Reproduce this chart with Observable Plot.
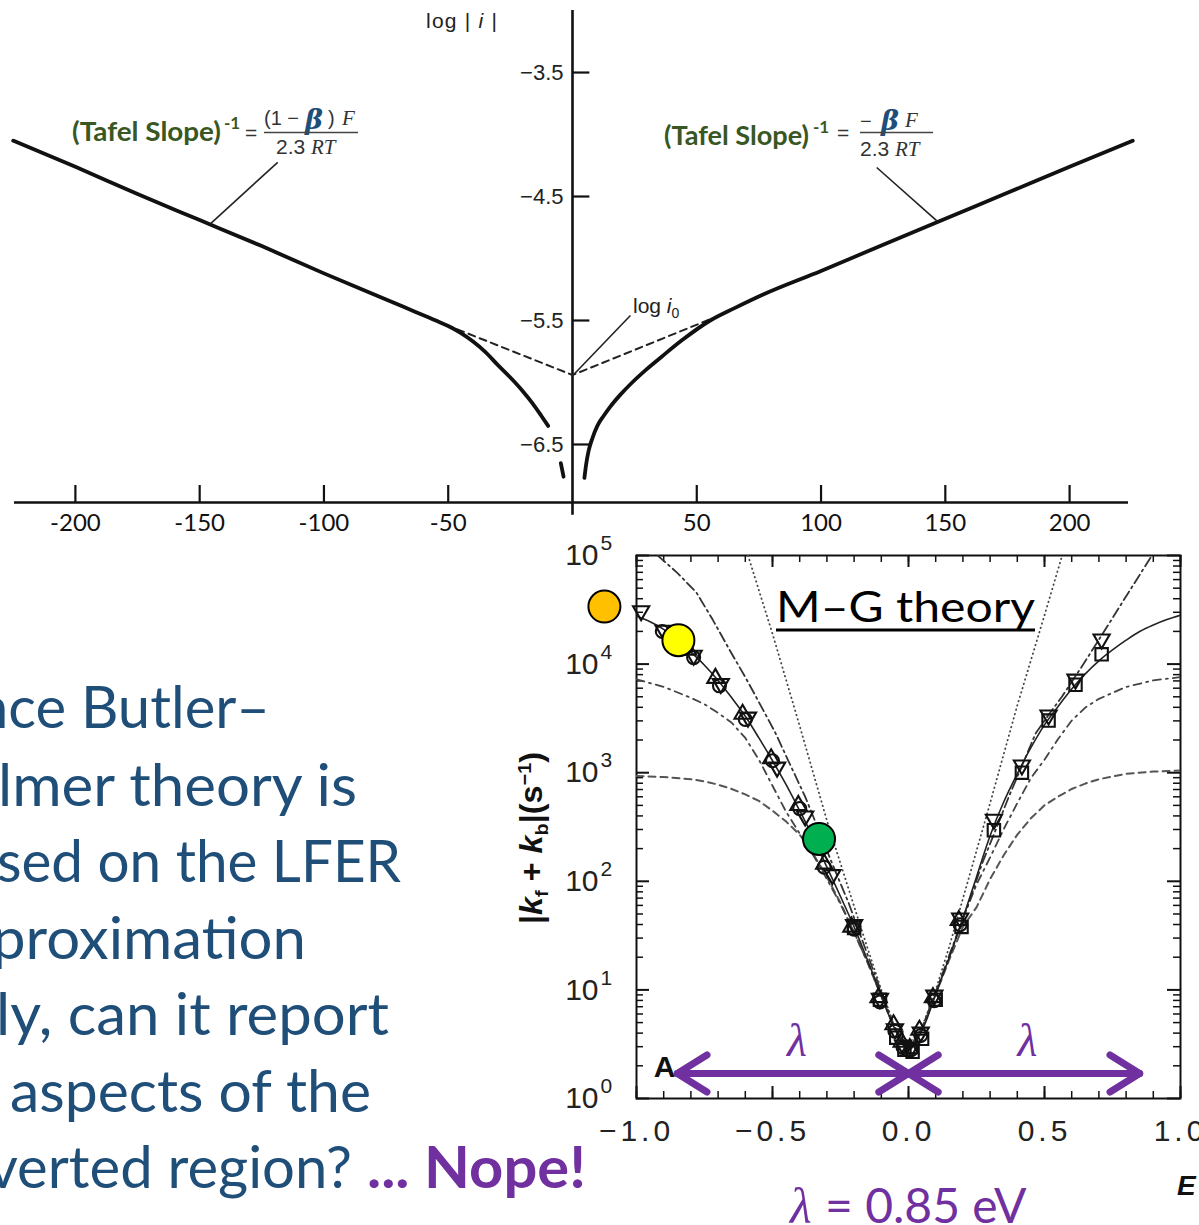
<!DOCTYPE html>
<html>
<head>
<meta charset="utf-8">
<script src="https://cdn.jsdelivr.net/npm/d3@7"></script>
<script src="https://cdn.jsdelivr.net/npm/@observablehq/plot@0.6"></script>
<style>
  html, body { margin:0; padding:0; background:#fff; }
  #page { position:relative; width:1199px; height:1225px; overflow:hidden; background:#fff; }
  #tafel, #mg, #notes { position:absolute; }
  #tafel { left:0; top:0; }
  #mg { left:490px; top:530px; }
  #notes { left:0; top:0; pointer-events:none; }
  #mg g[aria-label="x-axis tick label"] text { letter-spacing:4px; }
  #mg g[aria-label="ytick-base"] text { letter-spacing:4px; }
</style>
</head>
<body>
<div id="page">
  <div id="tafel"></div>
  <div id="mg"></div>
  <svg id="notes" width="1199" height="1225" xmlns="http://www.w3.org/2000/svg">
    <!-- Tafel plot labels -->
    <g font-family="Liberation Sans, Arial, sans-serif" fill="#222">
      <text x="426" y="28" font-size="21" textLength="71">log | <tspan font-style="italic">i</tspan> |</text>
      <text x="633" y="313" font-size="21">log <tspan font-style="italic">i</tspan><tspan font-size="14" dy="5">0</tspan></text>
    </g>
    <!-- left Tafel formula -->
    <g>
      <text x="72" y="141" font-family="Lato, sans-serif" font-weight="bold" font-size="26" fill="#385723" textLength="149" lengthAdjust="spacingAndGlyphs">(Tafel Slope)</text>
      <text x="224" y="129" font-family="Lato, sans-serif" font-weight="bold" font-size="17" fill="#385723">-1</text>
      <text x="245" y="140" font-family="Liberation Sans, Arial, sans-serif" font-size="21" fill="#333">=</text>
      <text x="264" y="125" font-family="Liberation Sans, Arial, sans-serif" font-size="20" fill="#333">(1 −</text>
      <text x="305" y="129" font-family="DejaVu Serif, serif" font-weight="bold" font-style="italic" font-size="27" fill="#1F4E79">β</text>
      <text x="328" y="125" font-family="Liberation Sans, Arial, sans-serif" font-size="20" fill="#333">)</text>
      <text x="342" y="125" font-family="Liberation Serif, serif" font-style="italic" font-size="21" fill="#333">F</text>
      <line x1="264" x2="358" y1="132.5" y2="132.5" stroke="#444" stroke-width="1.6"/>
      <text x="276" y="154" font-family="Liberation Sans, Arial, sans-serif" font-size="21" fill="#333">2.3 <tspan font-family="Liberation Serif, serif" font-style="italic">RT</tspan></text>
    </g>
    <!-- right Tafel formula -->
    <g>
      <text x="664" y="145" font-family="Lato, sans-serif" font-weight="bold" font-size="26" fill="#385723" textLength="145" lengthAdjust="spacingAndGlyphs">(Tafel Slope)</text>
      <text x="813" y="133" font-family="Lato, sans-serif" font-weight="bold" font-size="17" fill="#385723">-1</text>
      <text x="837" y="140" font-family="Liberation Sans, Arial, sans-serif" font-size="21" fill="#333">=</text>
      <text x="860" y="128" font-family="Liberation Sans, Arial, sans-serif" font-size="20" fill="#333">−</text>
      <text x="881" y="130" font-family="DejaVu Serif, serif" font-weight="bold" font-style="italic" font-size="27" fill="#1F4E79">β</text>
      <text x="905" y="127" font-family="Liberation Serif, serif" font-style="italic" font-size="21" fill="#333">F</text>
      <line x1="860" x2="933" y1="132.5" y2="132.5" stroke="#444" stroke-width="1.6"/>
      <text x="860" y="156" font-family="Liberation Sans, Arial, sans-serif" font-size="21" fill="#333">2.3 <tspan font-family="Liberation Serif, serif" font-style="italic">RT</tspan></text>
    </g>
    <!-- left paragraph -->
    <g font-family="Lato, sans-serif" font-size="58" fill="#1F4E79" text-anchor="end">
      <text x="270" y="728" textLength="294" lengthAdjust="spacingAndGlyphs">nce Butler–</text>
      <text x="357" y="806" textLength="359" lengthAdjust="spacingAndGlyphs">lmer theory is</text>
      <text x="401" y="882" textLength="404" lengthAdjust="spacingAndGlyphs">sed on the LFER</text>
      <text x="306" y="959" textLength="314" lengthAdjust="spacingAndGlyphs">proximation</text>
      <text x="389" y="1035" textLength="393" lengthAdjust="spacingAndGlyphs">ly, can it report</text>
      <text x="371" y="1112" textLength="361" lengthAdjust="spacingAndGlyphs">aspects of the</text>
      <text x="352" y="1188" textLength="364" lengthAdjust="spacingAndGlyphs">verted region?</text>
    </g>
    <text x="586" y="1188" text-anchor="end" font-family="Lato, sans-serif" font-weight="bold" font-size="58" fill="#7030A0" textLength="219" lengthAdjust="spacingAndGlyphs">... Nope!</text>
    <!-- M-G plot labels -->
    <text x="776" y="622" font-family="Lato, sans-serif" font-size="42" fill="#000" textLength="259" lengthAdjust="spacingAndGlyphs">M–G theory</text>
    <line x1="776" x2="1035" y1="630" y2="630" stroke="#000" stroke-width="3"/>
    <text transform="translate(542,838) rotate(-90)" text-anchor="middle" font-family="Liberation Sans, Arial, sans-serif" font-weight="bold" font-size="31" fill="#111" textLength="172" lengthAdjust="spacingAndGlyphs">|<tspan font-style="italic">k</tspan><tspan font-size="19" dy="6">f</tspan><tspan dy="-6"> + </tspan><tspan font-style="italic">k</tspan><tspan font-size="19" dy="6">b</tspan><tspan dy="-6">|(s</tspan><tspan font-size="19" dy="-11">−1</tspan><tspan dy="11">)</tspan></text>
    <text x="1177" y="1195" font-family="Liberation Sans, Arial, sans-serif" font-weight="bold" font-style="italic" font-size="28" fill="#111">E</text>
    <text x="790" y="1223" fill="#7030A0"><tspan font-family="Liberation Serif, serif" font-style="italic" font-size="50">λ</tspan><tspan x="825" font-family="Lato, sans-serif" font-size="48">= 0.85 eV</tspan></text>
  </svg>
</div>
<script>
// ---------------- Tafel plot data (overpotential in mV, log|i|) ----------------
const tafelXTicks = [-200, -150, -100, -50, 50, 100, 150, 200];
const tafelYTicks = [-3.5, -4.5, -5.5, -6.5];
const tafelAxisLogI = -6.968;            // level of the horizontal axis
const tafelYAxisSpan = [-7.07, -3.0];    // extent of the vertical axis
const tafelTickLength = 7;               // y tick length in mV units

const cathodicX    = [-225, -200, -175, -150, -125, -100, -75, -65, -55, -50, -45, -40, -35, -30, -25, -20, -16, -12.5, -9.8];
const cathodicLogI = [-4.05, -4.26, -4.48, -4.69, -4.90, -5.12, -5.33, -5.415, -5.50, -5.545, -5.60, -5.67, -5.755, -5.86, -5.96, -6.07, -6.17, -6.27, -6.35];
const cathodicTailX    = [-4.7, -3.6];
const cathodicTailLogI = [-6.65, -6.76];
const anodicX    = [4.8, 5.5, 6.5, 8, 10, 12.5, 15, 19.2, 24, 30, 36, 44, 55.4, 65.2, 76.7, 100, 125, 150, 175, 200, 225.4];
const anodicLogI = [-6.77, -6.66, -6.55, -6.45, -6.35, -6.27, -6.20, -6.10, -6.00, -5.89, -5.79, -5.66, -5.50, -5.40, -5.29, -5.10, -4.89, -4.68, -4.47, -4.26, -4.05];
const extrapX    = [-55.3, 0, 55.4];
const extrapLogI = [-5.50, -5.94, -5.49];
// leader lines: label end -> curve end
const leaderX1 = [-118.6, 122.4, 23.3];
const leaderY1 = [-4.224, -4.266, -5.46];
const leaderX2 = [-145.6, 146.6, 0.8];
const leaderY2 = [-4.718, -4.697, -5.93];

// ---------------- M–G plot data (E in eV, log10 |kf+kb|) ----------------
const mgXLabels = [-1, -0.5, 0, 0.5, 1];
const mgXMinor = [-1, -0.9, -0.8, -0.7, -0.6, -0.5, -0.4, -0.3, -0.2, -0.1, 0, 0.1, 0.2, 0.3, 0.4, 0.5, 0.6, 0.7, 0.8, 0.9, 1];
const mgYMajor = [1, 1e1, 1e2, 1e3, 1e4, 1e5];
const mgYMinor = d3.range(0, 5).flatMap(e => d3.range(2, 10).map(m => m * 10 ** e));

const solidE = [-1.0,-0.95,-0.9,-0.85,-0.8,-0.75,-0.7,-0.65,-0.6,-0.55,-0.5,-0.45,-0.4,-0.35,-0.3,-0.25,-0.2,-0.15,-0.1,-0.05,0,0.05,0.1,0.15,0.2,0.25,0.3,0.35,0.4,0.45,0.5,0.55,0.6,0.65,0.7,0.75,0.8,0.85,0.9,0.95,1.0];
const solidLogK = [4.44,4.39,4.32,4.22,4.11,3.99,3.85,3.69,3.52,3.32,3.11,2.89,2.65,2.40,2.13,1.86,1.58,1.27,0.95,0.64,0.45,0.63,0.96,1.30,1.66,2.04,2.42,2.73,2.99,3.23,3.44,3.61,3.77,3.91,4.03,4.13,4.22,4.30,4.36,4.41,4.45];

const bvE = [-0.59,-0.5,-0.4,-0.3,-0.2,-0.15,-0.1,-0.05,0,0.05,0.1,0.15,0.2,0.3,0.4,0.5,0.565];
const bvLogK = [5.0,4.28,3.43,2.56,1.77,1.38,1.0,0.66,0.45,0.66,1.0,1.40,1.84,2.72,3.62,4.45,5.0];

const steepE = [-0.922,-0.85,-0.78,-0.72,-0.66,-0.6,-0.55,-0.49,-0.44,-0.38,-0.33,-0.28,-0.22,-0.15,-0.1,-0.05,0,0.05,0.1,0.15,0.222,0.27,0.32,0.369,0.42,0.467,0.52,0.564,0.638,0.724,0.809,0.895];
const steepLogK = [5.0,4.84,4.66,4.41,4.14,3.88,3.65,3.37,3.10,2.78,2.47,2.16,1.80,1.32,0.98,0.65,0.45,0.65,0.98,1.32,1.80,2.16,2.47,2.78,3.08,3.36,3.55,3.70,3.98,4.32,4.66,5.0];

const plateauE = [-1.0,-0.9,-0.8,-0.75,-0.7,-0.65,-0.6,-0.55,-0.5,-0.45,-0.4,-0.35,-0.3,-0.25,-0.2,-0.15,-0.1,-0.05,0,0.05,0.1,0.15,0.2,0.25,0.3,0.35,0.4,0.45,0.5,0.55,0.6,0.65,0.7,0.8,0.9,1.0];
const plateauHiLogK = [3.86,3.79,3.69,3.63,3.55,3.46,3.32,3.12,2.88,2.64,2.44,2.24,2.02,1.79,1.53,1.25,0.94,0.64,0.45,0.64,0.96,1.30,1.66,1.97,2.22,2.48,2.72,2.95,3.12,3.31,3.48,3.60,3.68,3.79,3.85,3.88];
const plateauLoLogK = [2.97,2.96,2.94,2.92,2.89,2.85,2.80,2.74,2.65,2.55,2.43,2.25,2.04,1.80,1.53,1.25,0.94,0.64,0.45,0.64,0.96,1.28,1.58,1.76,2.02,2.24,2.43,2.58,2.70,2.78,2.85,2.90,2.94,2.99,3.01,3.02];

const triDownE = [-0.983,-0.90,-0.79,-0.69,-0.59,-0.483,-0.38,-0.28,-0.20,-0.105,-0.05,-0.02,0.01,0.045,0.095,0.19,0.314,0.417,0.515,0.614,0.71];
const triDownLogK = [4.49,4.31,4.08,3.82,3.51,3.05,2.60,2.06,1.60,0.92,0.64,0.49,0.47,0.61,0.95,1.66,2.57,3.07,3.53,3.86,4.23];
const triUpE = [-0.81,-0.71,-0.61,-0.505,-0.405,-0.31,-0.21,-0.11,-0.055,-0.025,0.005,0.04,0.09,0.185];
const triUpLogK = [4.13,3.87,3.54,3.13,2.70,2.16,1.58,0.93,0.68,0.52,0.46,0.63,0.93,1.64];
const circleE = [-0.905,-0.79,-0.695,-0.60,-0.50,-0.40,-0.31,-0.20,-0.105,-0.05,-0.02,0.01,0.045,0.095,0.19];
const circleLogK = [4.30,4.06,3.80,3.49,3.11,2.67,2.13,1.56,0.89,0.62,0.47,0.45,0.58,0.90,1.60];
const squareE = [-0.20,-0.105,-0.045,-0.015,0.015,0.05,0.10,0.195,0.314,0.417,0.515,0.614,0.71];
const squareLogK = [1.57,0.91,0.56,0.45,0.43,0.55,0.91,1.58,2.47,3.00,3.48,3.81,4.09];

const highlightE = [-1.118, -0.846, -0.329];
const highlightLogK = [4.53, 4.22, 2.39];
const highlightColor = ["#FFC000", "#FFFF00", "#00B050"];

const lambdaEV = 0.85;
const arrowFrom = [0, -lambdaEV, 0, lambdaEV];
const arrowTo   = [-lambdaEV, 0, lambdaEV, 0];
const arrowLogK = 0.23;
const lambdaLabelE = [-0.41, 0.437];
const lambdaLabelLogK = 0.53;
const panelLabel = {text: "A", E: -0.897, logK: 0.285};

// ---------------- helpers ----------------
const pts = (xs, ys) => xs.map((x, i) => ({x, y: ys[i]}));
const ptsK = (xs, ls) => xs.map((x, i) => ({x, k: 10 ** ls[i]}));
const triangleDown = {
  draw(ctx, size) {
    const y = Math.sqrt(size / (Math.sqrt(3) * 3));
    ctx.moveTo(0, 2 * y);
    ctx.lineTo(-Math.sqrt(3) * y, -y);
    ctx.lineTo(Math.sqrt(3) * y, -y);
    ctx.closePath();
  }
};

// ---------------- Tafel plot ----------------
const tafel = Plot.plot({
  width: 1199, height: 540,
  marginTop: 0, marginBottom: 38, marginLeft: 14, marginRight: 71,
  x: {domain: [-224.5, 223.7]},
  y: {domain: [tafelAxisLogI, -2.919], axis: null},
  style: {background: "transparent", overflow: "visible", fontFamily: "Lato, sans-serif", fontSize: "24px", color: "#111"},
  marks: [
    Plot.ruleY([tafelAxisLogI], {strokeWidth: 2.6}),
    Plot.ruleX([0], {y1: tafelYAxisSpan[0], y2: tafelYAxisSpan[1], strokeWidth: 2.6}),
    Plot.tickX(tafelXTicks, {x: d => d, insetTop: 485, strokeWidth: 2.2}),
    Plot.axisX(tafelXTicks, {tickSize: 0, tickPadding: 11, tickFormat: d => String(d), fontSize: 24, label: null}),
    Plot.ruleY(tafelYTicks, {y: d => d, x1: 0, x2: tafelTickLength, strokeWidth: 2.2}),
    Plot.text(tafelYTicks, {x: 0, y: d => d, text: d => d3.format(".1f")(d), dx: -9, textAnchor: "end", fontSize: 22, fontFamily: "Liberation Sans, Arial, sans-serif", fill: "#222"}),
    Plot.line(pts(extrapX, extrapLogI), {x: "x", y: "y", stroke: "#222", strokeWidth: 2, strokeDasharray: "7,5"}),
    Plot.line(pts(cathodicX, cathodicLogI), {x: "x", y: "y", strokeWidth: 3.8, curve: "monotone-x"}),
    Plot.line(pts(cathodicTailX, cathodicTailLogI), {x: "x", y: "y", strokeWidth: 3.8}),
    Plot.line(pts(anodicX, anodicLogI), {x: "x", y: "y", strokeWidth: 3.8, curve: "monotone-x"}),
    Plot.link(leaderX1.map((x, i) => ({x1: x, y1: leaderY1[i], x2: leaderX2[i], y2: leaderY2[i]})),
      {x1: "x1", y1: "y1", x2: "x2", y2: "y2", stroke: "#222", strokeWidth: 1.6})
  ]
});
document.getElementById("tafel").append(tafel);

// ---------------- M–G plot ----------------
const frameH = 695 - 25 - 127, frameW = 709 - 146 - 19;
const lineStyle = {x: "x", y: "k", clip: true};
const markStyle = {x: "x", y: "k", stroke: "#111", strokeWidth: 2.1, fill: "none"};
const mg = Plot.plot({
  width: 709, height: 695,
  marginLeft: 146, marginRight: 19, marginTop: 25, marginBottom: 127,
  x: {domain: [-1, 1]},
  y: {type: "log", domain: [1, 1e5], axis: null},
  color: {type: "identity"},
  style: {background: "transparent", overflow: "visible", fontFamily: "Liberation Sans, Arial, sans-serif", fontSize: "30px", color: "#111"},
  marks: [
    Plot.frame({strokeWidth: 2}),
    Plot.tickX(mgXMinor, {x: d => d, insetTop: frameH - 7, strokeWidth: 1.5}),
    Plot.tickX(mgXMinor, {x: d => d, insetBottom: frameH - 7, strokeWidth: 1.5}),
    Plot.tickX(mgXLabels, {x: d => d, insetTop: frameH - 12, strokeWidth: 2}),
    Plot.tickX(mgXLabels, {x: d => d, insetBottom: frameH - 12, strokeWidth: 2}),
    Plot.tickY(mgYMinor, {y: d => d, insetRight: frameW - 7, strokeWidth: 1.5}),
    Plot.tickY(mgYMinor, {y: d => d, insetLeft: frameW - 7, strokeWidth: 1.5}),
    Plot.tickY(mgYMajor, {y: d => d, insetRight: frameW - 13, strokeWidth: 2}),
    Plot.tickY(mgYMajor, {y: d => d, insetLeft: frameW - 13, strokeWidth: 2}),
    Plot.axisX(mgXLabels, {tickSize: 0, tickPadding: 21, tickFormat: d3.format(".1f"), label: null, fontSize: 30, fill: "#222"}),
    Plot.text(mgYMajor, {y: d => d, frameAnchor: "left", text: () => "10", textAnchor: "end", dx: -38, fontSize: 30, fill: "#222", ariaLabel: "ytick-base"}),
    Plot.text(mgYMajor, {y: d => d, frameAnchor: "left", text: d => String(Math.round(Math.log10(d))), textAnchor: "start", dx: -36, dy: -12, fontSize: 21, fill: "#222"}),
    // theory curves
    Plot.line(ptsK(plateauE, plateauLoLogK), {...lineStyle, stroke: "#555", strokeWidth: 2, strokeDasharray: "7,5"}),
    Plot.line(ptsK(plateauE, plateauHiLogK), {...lineStyle, stroke: "#444", strokeWidth: 1.8, strokeDasharray: "8,5,2,5"}),
    Plot.line(ptsK(steepE, steepLogK), {...lineStyle, stroke: "#333", strokeWidth: 1.8, strokeDasharray: "10,4,2,4"}),
    Plot.line(ptsK(bvE, bvLogK), {...lineStyle, stroke: "#444", strokeWidth: 1.8, strokeDasharray: "0.5,4", strokeLinecap: "round"}),
    Plot.line(ptsK(solidE, solidLogK), {...lineStyle, stroke: "#222", strokeWidth: 1.6, curve: "catmull-rom"}),
    // measured points
    Plot.dot(ptsK(triUpE, triUpLogK), {...markStyle, symbol: "triangle", r: 6}),
    Plot.dot(ptsK(squareE, squareLogK), {...markStyle, symbol: "square", r: 7}),
    Plot.dot(ptsK(circleE, circleLogK), {...markStyle, symbol: "circle", r: 6.5}),
    Plot.dot(ptsK(triDownE, triDownLogK), {...markStyle, symbol: triangleDown, r: 6}),
    // highlights
    Plot.dot(highlightE.map((x, i) => ({x, k: 10 ** highlightLogK[i], c: highlightColor[i]})),
      {x: "x", y: "k", r: 16, fill: "c", stroke: "#000", strokeWidth: 2}),
    // lambda arrows
    Plot.arrow(arrowFrom.map((x, i) => ({x1: x, x2: arrowTo[i], k: 10 ** arrowLogK})),
      {x1: "x1", x2: "x2", y1: "k", y2: "k", stroke: "#7030A0", strokeWidth: 7, headAngle: 64, headLength: 7.5, strokeLinecap: "round", strokeLinejoin: "round"}),
    Plot.text(lambdaLabelE.map(x => ({x, k: 10 ** lambdaLabelLogK})),
      {x: "x", y: "k", text: () => "λ", fontFamily: "Liberation Serif, serif", fontStyle: "italic", fontSize: 46, fill: "#7030A0"}),
    Plot.text([panelLabel], {x: "E", y: d => 10 ** d.logK, text: "text", fontWeight: "bold", fontSize: 30, fill: "#111"})
  ]
});
document.getElementById("mg").append(mg);
</script>
</body>
</html>
